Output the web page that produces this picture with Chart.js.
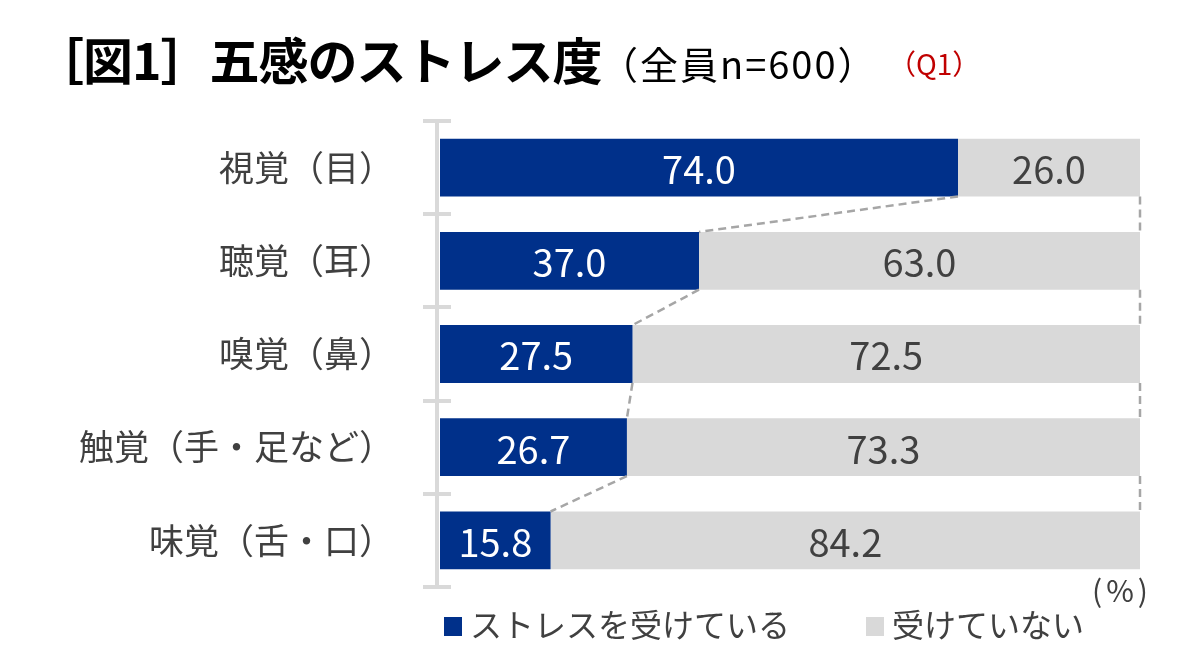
<!DOCTYPE html>
<html lang="ja">
<head>
<meta charset="utf-8">
<script src="https://cdn.jsdelivr.net/npm/chart.js@4/dist/chart.umd.min.js"></script>
<style>
  html, body { margin: 0; padding: 0; background: #fff; }
  body { width: 1200px; height: 662px; position: relative; overflow: hidden;
         font-family: "Noto Sans CJK JP", "Noto Sans", sans-serif; }
  #wrap { position: absolute; left: 0; top: 0; width: 1200px; height: 662px; }
  .t { position: absolute; white-space: nowrap; line-height: 1; }
  .main { left: 34px; top: 33px; font-size: 50px; font-weight: 700; color: #000; letter-spacing: -1px; }
  .sub { left: 600px; top: 44px; font-size: 38px; color: #000; letter-spacing: 2px; }
  .q { left: 888px; top: 49px; font-size: 28px; color: #c00000; }
  .unit { left: 1092px; top: 574px; font-size: 30px; color: #404040; letter-spacing: 4px; }
  .legend { position: absolute; left: 444px; top: 600px; font-size: 32px; color: #404040; white-space: nowrap; }
  .legend span.box { display: inline-block; width: 18px; height: 19px; vertical-align: middle; margin-right: 8px; position: relative; top: -2px; }
  .legend .item { display: inline-block; margin-right: 76px; }
</style>
</head>
<body>
<div id="wrap"><canvas id="chart" width="1200" height="662"></canvas></div>
<div class="t main">［図1］五感のストレス度</div>
<div class="t sub">（全員n=600）</div>
<div class="t q">（Q1）</div>
<div class="t unit">(%)</div>
<div class="legend">
  <span class="item"><span class="box" style="background:#00308a"></span>ストレスを受けている</span><span class="item"><span class="box" style="background:#d9d9d9"></span>受けていない</span>
</div>
<script>
const categories = ['視覚（目）', '聴覚（耳）', '嗅覚（鼻）', '触覚（手・足など）', '味覚（舌・口）'];
const stressed = [74.0, 37.0, 27.5, 26.7, 15.8];
const notStressed = [26.0, 63.0, 72.5, 73.3, 84.2];
const seriesNames = ['ストレスを受けている', '受けていない'];

const FONT = '"Noto Sans CJK JP", "Noto Sans", sans-serif';

// axis line, tick marks, dashed series lines and value labels
const extras = {
    id: 'extras',
    beforeDatasetsDraw(chart) {
        const ctx = chart.ctx;
        const area = chart.chartArea;
        const axisX = area.left - 3;
        ctx.save();
        ctx.strokeStyle = '#d9d9d9';
        ctx.lineWidth = 4;
        ctx.beginPath();
        ctx.moveTo(axisX, area.top);
        ctx.lineTo(axisX, area.bottom);
        ctx.stroke();
        const n = categories.length;
        const band = (area.bottom - area.top) / n;
        for (let i = 0; i <= n; i++) {
            const ty = Math.round(area.top + band * i);
            ctx.beginPath();
            ctx.moveTo(axisX - 14, ty);
            ctx.lineTo(axisX + 14, ty);
            ctx.stroke();
        }
        ctx.restore();
    },
    afterDatasetsDraw(chart) {
        const ctx = chart.ctx;
        const m0 = chart.getDatasetMeta(0).data;
        const m1 = chart.getDatasetMeta(1).data;
        ctx.save();
        ctx.strokeStyle = '#a6a6a6';
        ctx.lineWidth = 2.5;
        ctx.setLineDash([8, 5]);
        for (let i = 0; i < m0.length - 1; i++) {
            const a = m0[i], b = m0[i + 1];
            ctx.beginPath();
            ctx.moveTo(a.x, a.y + a.height / 2);
            ctx.lineTo(b.x, b.y - b.height / 2);
            ctx.stroke();
            const c = m1[i], d = m1[i + 1];
            ctx.beginPath();
            ctx.moveTo(c.x, c.y + c.height / 2);
            ctx.lineTo(d.x, d.y - d.height / 2);
            ctx.stroke();
        }
        ctx.setLineDash([]);
        ctx.font = '38px ' + FONT;
        ctx.textAlign = 'center';
        ctx.textBaseline = 'middle';
        m0.forEach((el, i) => {
            ctx.fillStyle = '#ffffff';
            ctx.fillText(stressed[i].toFixed(1), (el.x + el.base) / 2, el.y + 2);
        });
        m1.forEach((el, i) => {
            ctx.fillStyle = '#404040';
            ctx.fillText(notStressed[i].toFixed(1), (el.x + el.base) / 2, el.y + 2);
        });
        ctx.restore();
    }
};

new Chart(document.getElementById('chart'), {
    type: 'bar',
    data: {
        labels: categories,
        datasets: [{
            label: seriesNames[0],
            data: stressed,
            backgroundColor: '#00308a'
        }, {
            label: seriesNames[1],
            data: notStressed,
            backgroundColor: '#d9d9d9'
        }]
    },
    options: {
        indexAxis: 'y',
        responsive: false,
        animation: false,
        layout: { padding: { top: 121, bottom: 75, right: 60, left: 0 } },
        datasets: { bar: { barPercentage: 0.62, categoryPercentage: 1 } },
        plugins: { legend: { display: false }, tooltip: { enabled: false } },
        scales: {
            x: { stacked: true, min: 0, max: 100, display: false },
            y: {
                stacked: true,
                border: { display: false },
                grid: { display: false, drawTicks: false },
                ticks: { color: '#404040', padding: 46, font: { size: 35, family: FONT } },
                afterFit(scale) { scale.width = 440; }
            }
        }
    },
    plugins: [extras]
});
</script>
</body>
</html>
